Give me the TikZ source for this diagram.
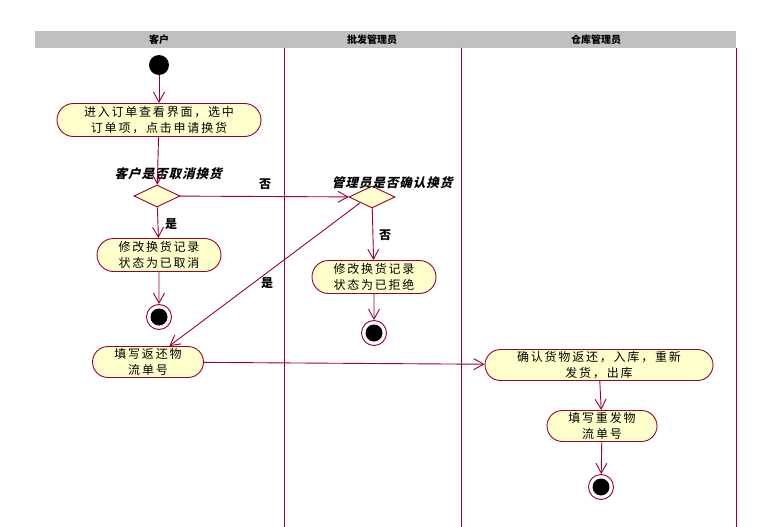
\documentclass[tikz,border=0pt]{standalone}
\usepackage{fontspec}
\setmainfont{Noto Sans CJK SC}
\newfontfamily\cjk{Noto Sans CJK SC}[LetterSpace=15]
\newfontfamily\cjkbi{Noto Sans CJK SC}[FakeSlant=0.25, LetterSpace=8]
\newfontfamily\cjkb{Noto Sans CJK SC}
\usetikzlibrary{arrows.meta,shapes.geometric,shapes.misc}
\definecolor{lc}{RGB}{153,0,51}
\definecolor{actfill}{RGB}{255,255,204}
\definecolor{hdr}{RGB}{192,192,192}
\tikzset{
  action/.style={draw=lc, fill=actfill, rounded rectangle, inner sep=0pt, align=center,
    minimum height=33pt, line width=0.9pt, font=\cjk\fontsize{12}{16}\selectfont},
  decision/.style={draw=lc, fill=actfill, diamond, inner sep=0pt, minimum width=46pt,
    minimum height=22pt, line width=0.9pt},
  startnode/.style={circle, fill=black, minimum size=20pt, inner sep=0pt},
  endnode/.style={circle, draw=lc, fill=white, line width=0.9pt, minimum size=25pt, inner sep=0pt,
    path picture={\fill[black] (path picture bounding box.center) circle (8.5pt);}},
  flow/.style={draw=lc, line width=0.9pt, -{Straight Barb[length=10pt,width=11pt,line width=0.9pt]}},
  lane/.style={draw=lc, line width=0.9pt},
  guard/.style={font=\cjkb\bfseries\fontsize{12}{12}\selectfont, text=black},
  cond/.style={font=\cjkbi\bfseries\fontsize{12.5}{13}\selectfont, text=black},
  hdrtext/.style={font=\cjkb\bfseries\fontsize{10}{10}\selectfont, text=black}
}
\begin{document}
\begin{tikzpicture}[x=1pt,y=-1pt]
\useasboundingbox[fill=white] (0,0) rectangle (772,527);
% header
\fill[hdr] (35,31) rectangle (736,48);
\node[hdrtext] (h1) at (159,40) {客户};
\node[hdrtext] (h2) at (372,40) {批发管理员};
\node[hdrtext] (h3) at (596,40) {仓库管理员};
% lanes
\coordinate (l1t) at (284,48); \coordinate (l1b) at (284,527);
\coordinate (l2t) at (461,48); \coordinate (l2b) at (461,527);
\coordinate (l3t) at (736,48); \coordinate (l3b) at (736,527);
\draw[lane] (l1t) -- (l1b);
\draw[lane] (l2t) -- (l2b);
\draw[lane] (l3t) -- (l3b);
% nodes
\node[startnode] (start) at (159,65) {};
\node[action, minimum width=204pt] (a1) at (159,120) {进入订单查看界面，选中\\订单项，点击申请换货};
\node[decision] (d1) at (157,196) {};
\node[cond] (c1) at (168,174) {客户是否取消换货};
\node[decision] (d2) at (372,197) {};
\node[cond] (c2) at (392,183) {管理员是否确认换货};
\node[action, minimum width=124pt] (cancel) at (159,255) {修改换货记录\\状态为已取消};
\node[endnode] (f1) at (159,317) {};
\node[action, minimum width=124pt] (reject) at (374,277) {修改换货记录\\状态为已拒绝};
\node[endnode] (f2) at (374,333) {};
\node[action, minimum width=111pt, minimum height=31pt] (ret) at (148,362) {填写返还物\\流单号};
\node[action, minimum width=228pt, minimum height=31pt] (confirm) at (599,365) {确认货物返还，入库，重新\\发货，出库};
\node[action, minimum width=110pt, minimum height=31pt] (refill) at (602,426) {填写重发物\\流单号};
\node[endnode] (f3) at (601,487) {};
% guards
\node[guard] (g1) at (265,184) {否};
\node[guard] (g2) at (171,224) {是};
\node[guard] (g3) at (385,235) {否};
\node[guard] (g4) at (267,283) {是};
% edges
\draw[flow] (start) -- (a1);
\draw[flow] (a1) -- (d1);
\draw[flow] (d1) -- (d2);
\draw[flow] (d1) -- (cancel);
\draw[flow] (cancel) -- (f1);
\draw[flow] (d2) -- (reject);
\draw[flow] (reject) -- (f2);
\draw[flow] (d2.south west) -- (ret);
\draw[flow] (ret) -- (confirm);
\draw[flow] (confirm) -- (refill);
\draw[flow] (refill) -- (f3);
\end{tikzpicture}
\end{document}
